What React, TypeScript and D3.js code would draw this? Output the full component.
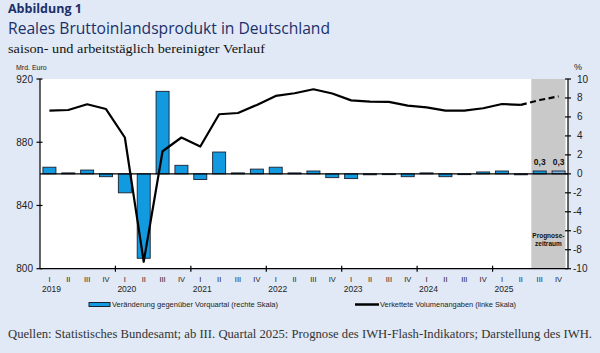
import * as d3 from 'd3';

// 2019 I ... 2025 IV
const quarterLabels = [
  'I', 'II', 'III', 'IV', 'I', 'II', 'III', 'IV', 'I', 'II', 'III', 'IV', 'I', 'II',
  'III', 'IV', 'I', 'II', 'III', 'IV', 'I', 'II', 'III', 'IV', 'I', 'II', 'III', 'IV',
];
const years = ['2019', '2020', '2021', '2022', '2023', '2024', '2025'];

// Verkettete Volumenangaben, Mrd. Euro (linke Skala)
const gdpLevel = [
  900.0, 900.4, 904.0, 901.0, 883.0, 804.4, 874.3, 883.0, 877.3, 897.7, 898.5, 903.6, 909.3, 911.0,
  913.5, 910.8, 906.5, 905.7, 905.5, 903.2, 902.1, 900.0, 900.0, 901.5, 904.2, 903.6, 906.7, 909.0,
];

// Veränderung gegenüber Vorquartal, % (rechte Skala)
const qoqChange = [
  0.7, 0.1, 0.4, -0.3, -2.0, -8.9, 8.7, 0.9, -0.6, 2.3, 0.1, 0.5, 0.7, 0.1,
  0.3, -0.4, -0.5, -0.1, 0.0, -0.3, 0.1, -0.3, 0.0, 0.2, 0.3, -0.1, 0.3, 0.3,
];

const forecastStart = 26;
const leftTicks = [800, 840, 880, 920];
const rightTicks = [-10, -8, -6, -4, -2, 0, 2, 4, 6, 8, 10];

const W = 600;
const H = 353;
const plot = { left: 40, right: 568, top: 79, bottom: 268.7 };
const axisFont = '"Liberation Sans", Arial, sans-serif';
const navy = '#1c2f6a';

export default function App() {
  const idx = quarterLabels.map((_, i) => i);
  const x = d3.scaleBand<number>().domain(idx).range([plot.left, plot.right]).paddingInner(0.31).paddingOuter(0.155);
  const step = x.step();
  const cx = (i: number) => (x(i) ?? 0) + x.bandwidth() / 2;
  const yL = d3.scaleLinear().domain([800, 920]).range([plot.bottom, plot.top]);
  const yR = d3.scaleLinear().domain([-10, 10]).range([plot.bottom, plot.top]);

  const line = d3.line<number>().x((i) => cx(i)).y((i) => yL(gdpLevel[i]));
  const solidIdx = idx.filter((i) => i < forecastStart);
  const dashIdx = idx.filter((i) => i >= forecastStart - 1);

  // forecast shading starts at the 2025 III band
  const grayLeft = (x(forecastStart) ?? 0) - step * 0.155 + 1;
  const grayRight = plot.right - 2.5;

  return (
    <svg width={W} height={H} style={{ position: 'absolute', left: 0, top: 0 }}>
      <rect x={0} y={0} width={W} height={H} fill="#e0e9f5" />

      <text x={8} y={13} fontFamily='"Open Sans", sans-serif' fontWeight="bold" fontSize={12.5} fill={navy}>Abbildung 1</text>
      <text x={8} y={34} fontFamily='"Open Sans", sans-serif' fontSize={16} fill={navy} textLength={322} lengthAdjust="spacingAndGlyphs">
        Reales Bruttoinlandsprodukt in Deutschland
      </text>
      <text x={8} y={53} fontFamily='"Liberation Serif", serif' fontSize={13} fill="#111" textLength={257} lengthAdjust="spacingAndGlyphs">
        saison- und arbeitstäglich bereinigter Verlauf
      </text>
      <text x={16} y={70} fontFamily={axisFont} fontSize={7} fill="#222">Mrd. Euro</text>
      <text x={574} y={70} fontFamily={axisFont} fontSize={9} fill="#222">%</text>

      {/* plot area */}
      <rect x={plot.left} y={plot.top} width={plot.right - plot.left} height={plot.bottom - plot.top} fill="#fff" />
      <rect x={grayLeft} y={plot.top} width={grayRight - grayLeft} height={plot.bottom - plot.top} fill="#c9c9c9" />

      {/* bars */}
      {qoqChange.map((v, i) => (
        <rect
          key={i}
          x={x(i)}
          y={yR(Math.max(0, v))}
          width={x.bandwidth()}
          height={Math.max(0.8, Math.abs(yR(v) - yR(0)))}
          fill={i === quarterLabels.length - 1 ? '#7fb2e8' : '#129ae0'}
          stroke="#1a2030"
          strokeWidth={0.9}
        />
      ))}
      <line x1={plot.left} x2={plot.right} y1={yR(0)} y2={yR(0)} stroke="#000" strokeWidth={1.2} />

      {/* value labels */}
      {idx.filter((i) => i >= forecastStart).map((i) => (
        <text key={i} x={cx(i)} y={yR(qoqChange[i]) - 6} textAnchor="middle" fontFamily={axisFont} fontWeight="bold" fontSize={8.5} fill="#111">
          {d3.format('.1f')(qoqChange[i]).replace('.', ',')}
        </text>
      ))}

      {/* line */}
      <path d={line(solidIdx) ?? ''} fill="none" stroke="#000" strokeWidth={2.2} strokeLinejoin="round" />
      <path d={line(dashIdx) ?? ''} fill="none" stroke="#000" strokeWidth={2.2} strokeDasharray="6,3.5" />

      <text x={(grayLeft + grayRight) / 2} y={238} textAnchor="middle" fontFamily={axisFont} fontWeight="bold" fontSize={6.5} fill="#111">Prognose-</text>
      <text x={(grayLeft + grayRight) / 2} y={245.5} textAnchor="middle" fontFamily={axisFont} fontWeight="bold" fontSize={6.5} fill="#111">zeitraum</text>

      {/* left axis */}
      <line x1={plot.left} x2={plot.left} y1={plot.top} y2={plot.bottom} stroke="#000" strokeWidth={1.2} />
      {leftTicks.map((t) => (
        <g key={t}>
          <line x1={plot.left - 3.5} x2={plot.left + 2.5} y1={yL(t)} y2={yL(t)} stroke="#000" strokeWidth={1.2} />
          <text x={33} y={yL(t) + 3.5} textAnchor="end" fontFamily={axisFont} fontSize={10} fill="#222">{t}</text>
        </g>
      ))}

      {/* right axis */}
      <line x1={plot.right} x2={plot.right} y1={plot.top} y2={plot.bottom} stroke="#000" strokeWidth={1.2} />
      {rightTicks.map((t) => (
        <g key={t}>
          <line x1={plot.right - 3} x2={plot.right + 3} y1={yR(t)} y2={yR(t)} stroke="#000" strokeWidth={1.2} />
          <text x={t < 0 ? 573 : 577} y={yR(t) + 3.5} fontFamily={axisFont} fontSize={10} fill="#222">{t < 0 ? `-${-t}` : t}</text>
        </g>
      ))}

      {/* x axis */}
      <line x1={plot.left} x2={plot.right} y1={plot.bottom} y2={plot.bottom} stroke="#000" strokeWidth={1.2} />
      {years.map((yr, k) => {
        const bx = plot.left + k * 4 * step;
        return (
          <g key={yr}>
            {k > 0 && <line x1={bx} x2={bx} y1={plot.bottom - 3} y2={plot.bottom + 3} stroke="#000" strokeWidth={1.2} />}
            <text x={cx(k * 4) + 2} y={292} textAnchor="middle" fontFamily={axisFont} fontSize={8.5} fill="#222">{yr}</text>
          </g>
        );
      })}
      {quarterLabels.map((q, i) => (
        <text key={i} x={cx(i)} y={282} textAnchor="middle" fontFamily={axisFont} fontSize={7.5} fill="#222">{q}</text>
      ))}

      {/* legend */}
      <rect x={89} y={302.5} width={21} height={4} fill="#129ae0" stroke="#1a2030" strokeWidth={1} />
      <text x={112} y={307} fontFamily={axisFont} fontSize={7.2} fill="#222" textLength={166} lengthAdjust="spacingAndGlyphs">
        Veränderung gegenüber Vorquartal (rechte Skala)
      </text>
      <line x1={355} x2={379} y1={304.5} y2={304.5} stroke="#000" strokeWidth={2.5} />
      <text x={380} y={307} fontFamily={axisFont} fontSize={7.2} fill="#222" textLength={136} lengthAdjust="spacingAndGlyphs">
        Verkettete Volumenangaben (linke Skala)
      </text>

      <text x={8} y={338} fontFamily='"Liberation Serif", serif' fontSize={12.5} fill="#333" textLength={584} lengthAdjust="spacingAndGlyphs">
        Quellen: Statistisches Bundesamt; ab III. Quartal 2025: Prognose des IWH-Flash-Indikators; Darstellung des IWH.
      </text>
    </svg>
  );
}
